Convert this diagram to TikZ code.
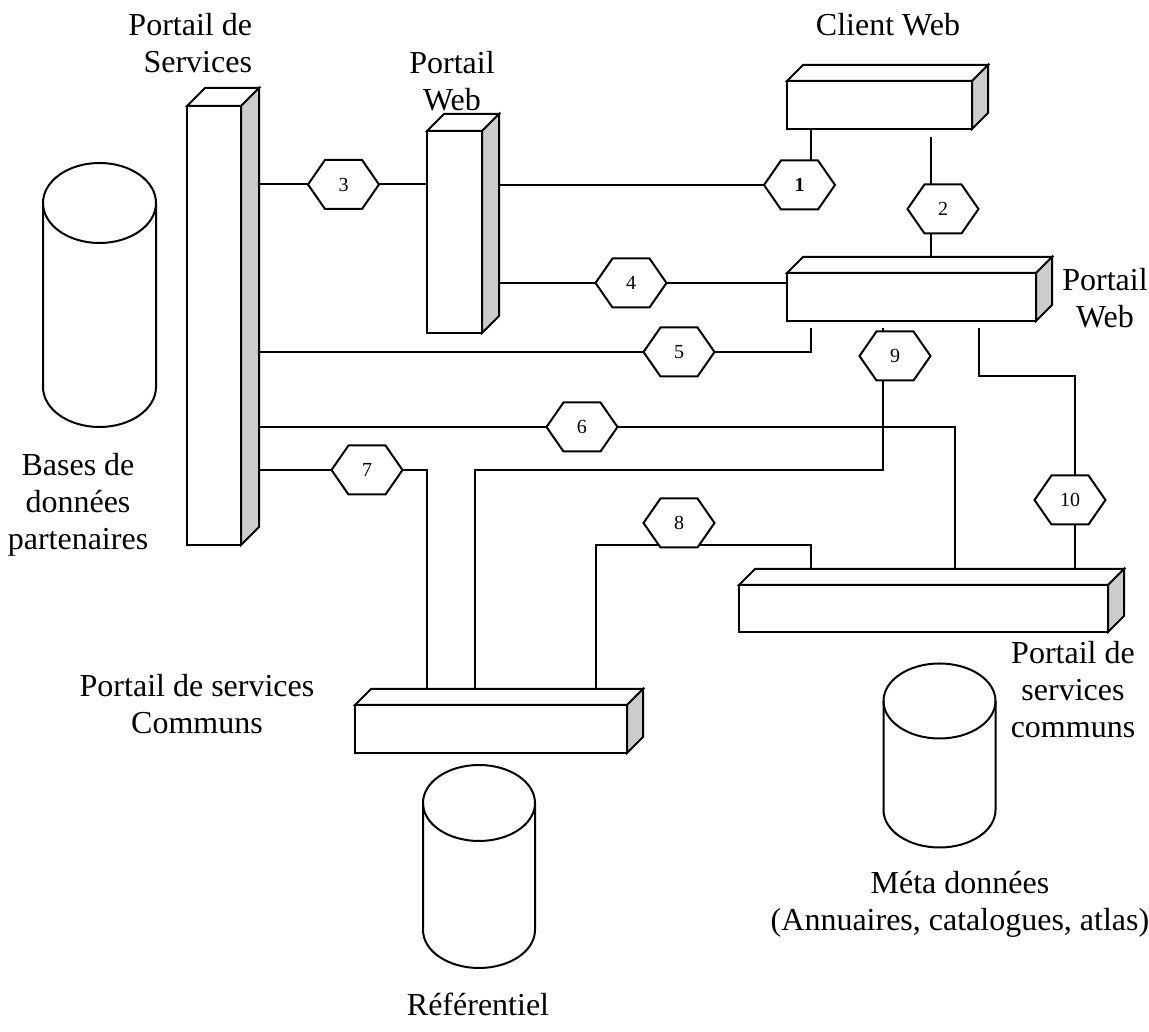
\documentclass[tikz,border=0pt]{standalone}
\usepackage{fontspec}
\setmainfont{Liberation Serif}
\usetikzlibrary{backgrounds,calc}

\begin{document}
\begin{tikzpicture}[
    x=0.375pt,
    y=-0.375pt,
    font=\fontsize{12}{13.875}\selectfont,
    line width=0.75pt,
    boxsize/.style 2 args={minimum width=#1*0.375pt, minimum height=#2*0.375pt},
    prism/.style={draw, fill=white, inner sep=0pt, outer sep=0pt,
      append after command={\pgfextra{
        \draw[fill=white] (\tikzlastnode.north west) -- ++(#1,-#1)
          -- ($(\tikzlastnode.north east)+(#1,-#1)$) -- (\tikzlastnode.north east) -- cycle;
        \draw[fill=black!20] (\tikzlastnode.north east) -- ++(#1,-#1)
          -- ($(\tikzlastnode.south east)+(#1,-#1)$) -- (\tikzlastnode.south east) -- cycle;}}},
    prism/.default=16,
    hexa/.style={inner sep=0pt, outer sep=0pt, boxsize={71}{49}, font=\fontsize{7.5}{9}\selectfont,
      append after command={\pgfextra{
        \draw (\tikzlastnode.west) -- ++(17,-24.5) -- ++(37,0) -- ++(17,24.5)
          -- ++(-17,24.5) -- ++(-37,0) -- cycle;}}},
    wire/.style={line width=0.75pt},
    lbl/.style={inner sep=0pt, align=center}
  ]
    \useasboundingbox (0,0) rectangle (1149,1032);

    % 3D boxes
    \node[prism=18, boxsize={54}{439}] (ps) at (214,325.5) {};
    \node[prism=17, boxsize={55}{202}] (pw1) at (454.5,232) {};
    \node[prism, boxsize={185}{48}] (cw) at (879.5,105) {};
    \node[prism, boxsize={249}{48}] (pw2) at (911.5,297) {};
    \node[prism, boxsize={369}{47}] (psc2) at (923.5,608.5) {};
    \node[prism, boxsize={272}{48}] (psc1) at (491,729) {};

    % hexagons
    \node[hexa] (h1) at (799.5,185) {\textbf{1}};
    \node[hexa] (h2) at (943,209) {2};
    \node[hexa] (h3) at (343.5,184.5) {3};
    \node[hexa] (h4) at (631,283) {4};
    \node[hexa] (h5) at (679,352) {5};
    \node[hexa] (h6) at (582,427) {6};
    \node[hexa] (h7) at (367,470) {7};
    \node[hexa] (h8) at (679,523) {8};
    \node[hexa] (h9) at (895,356) {9};
    \node[hexa] (h10) at (1070,500) {10};

    % cylinders
    \draw (43,203) arc[start angle=180, end angle=-180, x radius=56.5, y radius=40];
    \draw (43,203) -- (43,387) arc[start angle=180, end angle=0, x radius=56.5, y radius=40] -- (156,203);
    \draw (883.5,701) arc[start angle=180, end angle=-180, x radius=56, y radius=37.5];
    \draw (883.5,701) -- (883.5,810) arc[start angle=180, end angle=0, x radius=56, y radius=37.5] -- (995.5,701);
    \draw (423,803) arc[start angle=180, end angle=-180, x radius=56, y radius=38];
    \draw (423,803) -- (423,930) arc[start angle=180, end angle=0, x radius=56, y radius=38] -- (535,803);

    % labels
    \node[lbl, align=right, anchor=north east] (lps) at (253,12) {Portail de\\Services};
    \node[lbl, anchor=north] (lpw1) at (452,50) {Portail\\Web};
    \node[lbl, anchor=north] (lcw) at (888,12) {Client Web};
    \node[lbl, anchor=north] (lpw2) at (1105,267) {Portail\\Web};
    \node[lbl, anchor=north] (lbd) at (78,452) {Bases de\\données\\partenaires};
    \node[lbl, anchor=north] (lpsc1) at (197,673) {Portail de services\\Communs};
    \node[lbl, anchor=north] (lpsc2) at (1073,640) {Portail de\\services\\communs};
    \node[lbl, anchor=north] (lmd) at (960,870) {Méta données\\(Annuaires, catalogues, atlas)};
    \node[lbl, anchor=north] (lref) at (478,992) {Référentiel};

    % taps and corners
    \coordinate (j1) at (811,129);
    \coordinate (j2) at (931,137);
    \coordinate (j5) at (811,328);
    \coordinate (j9) at (883,328);
    \coordinate (j10) at (979,328);
    \coordinate (k6) at (955,427);
    \coordinate (k7) at (427,470);
    \coordinate (k8a) at (596,545);
    \coordinate (k8b) at (811,545);
    \coordinate (k8c) at (658,545);
    \coordinate (k8d) at (700,545);
    \coordinate (k9) at (475,470);
    \coordinate (k10) at (1075,376);

    \begin{scope}[on background layer]
      \draw[wire] (ps.east |- h3) -- (h3.west);
      \draw[wire] (h3.east) -- (pw1.west |- h3);
      \draw[wire] (pw1.east |- h1) -- (h1.west);
      \draw[wire] (h1.north -| j1) -- (j1);
      \draw[wire] (j2) -- (j2 |- h2.north);
      \draw[wire] (j2 |- h2.south) -- (j2 |- pw2.north);
      \draw[wire] (pw1.east |- h4) -- (h4.west);
      \draw[wire] (h4.east) -- (pw2.west |- h4);
      \draw[wire] (ps.east |- h5) -- (h5.west);
      \draw[wire] (h5.east) -- (h5.east -| j5) -- (j5);
      \draw[wire] (ps.east |- h6) -- (h6.west);
      \draw[wire] (h6.east) -- (k6) -- (k6 |- psc2.north);
      \draw[wire] (ps.east |- h7) -- (h7.west);
      \draw[wire] (h7.east) -- (k7) -- (k7 |- psc1.north);
      \draw[wire] (k8a |- psc1.north) -- (k8a) -- (k8c);
      \draw[wire] (k8d) -- (k8b) -- (k8b |- psc2.north);
      \draw[wire] (j9) -- (j9 |- h9.north);
      \draw[wire] (j9 |- h9.south) -- (j9 |- k9) -- (k9) -- (k9 |- psc1.north);
      \draw[wire] (j10) -- (j10 |- k10) -- (k10) -- (k10 |- h10.north);
      \draw[wire] (k10 |- h10.south) -- (k10 |- psc2.north);
    \end{scope}
  \end{tikzpicture}
\end{document}
